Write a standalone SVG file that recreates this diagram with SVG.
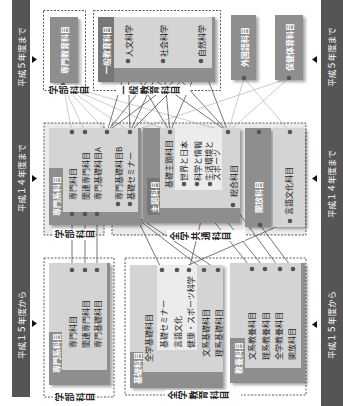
<svg xmlns="http://www.w3.org/2000/svg" width="343" height="406" viewBox="0 0 343 406">
<defs>
<style>
.bar{fill:#555}
.bt{fill:#fff;font-family:"Noto Sans CJK JP",sans-serif;font-size:8.5px}
.arr{fill:#111}
.dash{fill:#fff;stroke:#333;stroke-width:0.8;stroke-dasharray:2 1.5}
.dashg{fill:#ebebeb;stroke:#333;stroke-width:0.8;stroke-dasharray:2 1.5}
.box{fill:#8e8e8e}
.strip{fill:#777}
.panel{fill:#d4d4d4}
.sub{fill:#ececec}
.wt{fill:#fff;font-family:"Noto Sans CJK JP",sans-serif;font-size:8px;font-weight:bold}
.t{fill:#222;font-family:"Noto Sans CJK JP",sans-serif;font-size:8px}
.lab{fill:#222;font-family:"Noto Sans CJK JP",sans-serif;font-size:9px;font-weight:bold;writing-mode:vertical-rl;letter-spacing:1.5px}
.dot{fill:#555}
.ln{stroke:#555;stroke-width:0.8;fill:none}
.ln2{stroke:#aaa;stroke-width:0.6;fill:none}
</style>
<filter id="sh" x="-20%" y="-20%" width="150%" height="140%"><feDropShadow dx="2.5" dy="2" stdDeviation="1.5" flood-color="#000" flood-opacity="0.35"/></filter>
</defs>
<rect width="343" height="406" fill="#fff"/>

<g id="bars">
<rect class="bar" x="12" y="0" width="18" height="397"/>
<rect class="bar" x="321" y="0" width="22" height="406"/>
<text class="bt" transform="translate(21,57) rotate(-90)" text-anchor="middle" dominant-baseline="central">平成５年度まで</text>
<text class="bt" transform="translate(21,178) rotate(-90)" text-anchor="middle" dominant-baseline="central">平成１４年度まで</text>
<text class="bt" transform="translate(21,325) rotate(-90)" text-anchor="middle" dominant-baseline="central">平成１５年度から</text>
<text class="bt" transform="translate(331,57) rotate(-90)" text-anchor="middle" dominant-baseline="central">平成５年度まで</text>
<text class="bt" transform="translate(331,184) rotate(-90)" text-anchor="middle" dominant-baseline="central">平成１４年度まで</text>
<text class="bt" transform="translate(331,325) rotate(-90)" text-anchor="middle" dominant-baseline="central">平成１５年度から</text>
<path class="arr" d="M32,56 L37,59.5 L32,63 Z M32,175 L37,178.5 L32,182 Z M32,320 L37,323.5 L32,327 Z"/>
<path class="arr" d="M317,56 L312,59.5 L317,63 Z M317,175 L312,178.5 L317,182 Z M317,321 L312,324.5 L317,328 Z"/>
</g>

<g id="groups">
<rect class="dash" x="43.5" y="10.5" width="42" height="80"/>
<rect class="dash" x="93.5" y="10.5" width="127" height="80"/>
<rect class="dashg" x="44" y="123" width="60" height="112"/>
<rect class="dashg" x="112" y="123" width="194" height="112"/>
<rect class="dash" x="44" y="258" width="70" height="139"/>
<rect class="dash" x="125" y="258" width="181" height="137"/>
</g>

<g id="connectors">
<line class="ln2" x1="63" y1="85" x2="72" y2="132"/>
<line class="ln2" x1="63" y1="85" x2="85" y2="132"/>
<line class="ln2" x1="63" y1="85" x2="107" y2="132"/>
<line class="ln2" x1="63" y1="85" x2="130" y2="132"/>
<line class="ln2" x1="63" y1="85" x2="170" y2="132"/>
<line class="ln2" x1="63" y1="85" x2="228" y2="132"/>
<line class="ln" x1="128" y1="61" x2="107" y2="132"/>
<line class="ln" x1="128" y1="61" x2="130" y2="132"/>
<line class="ln" x1="128" y1="61" x2="170" y2="132"/>
<line class="ln" x1="128" y1="61" x2="228" y2="132"/>
<line class="ln" x1="163" y1="61" x2="107" y2="132"/>
<line class="ln" x1="163" y1="61" x2="130" y2="132"/>
<line class="ln" x1="163" y1="61" x2="170" y2="132"/>
<line class="ln" x1="163" y1="61" x2="228" y2="132"/>
<line class="ln" x1="201" y1="61" x2="107" y2="132"/>
<line class="ln" x1="201" y1="61" x2="130" y2="132"/>
<line class="ln" x1="201" y1="61" x2="170" y2="132"/>
<line class="ln" x1="201" y1="61" x2="228" y2="132"/>
<line class="ln2" x1="244" y1="78" x2="228" y2="132"/>
<line class="ln2" x1="244" y1="78" x2="290" y2="132"/>
<line class="ln2" x1="289" y1="78" x2="228" y2="132"/>
<line class="ln2" x1="289" y1="78" x2="130" y2="132"/>
<line class="ln" x1="72" y1="214" x2="72" y2="270"/>
<line class="ln" x1="85" y1="214" x2="85" y2="270"/>
<line class="ln" x1="97" y1="214" x2="97" y2="270"/>
<line class="ln" x1="118" y1="204" x2="204" y2="270"/>
<line class="ln" x1="118" y1="204" x2="218" y2="270"/>
<line class="ln" x1="130" y1="204" x2="162" y2="270"/>
<line class="ln" x1="184" y1="184" x2="252" y2="269"/>
<line class="ln" x1="197" y1="184" x2="265" y2="269"/>
<line class="ln" x1="210" y1="184" x2="189" y2="270"/>
<line class="ln" x1="233" y1="205" x2="280" y2="269"/>
<line class="ln" x1="260" y1="225" x2="293" y2="269"/>
<line class="ln" x1="290" y1="221" x2="177" y2="270"/>
</g>

<g id="n-senmonkyoiku">
<rect class="box" x="50" y="17" width="28" height="66" filter="url(#sh)"/>
<text class="wt" transform="translate(64,50) rotate(-90)" text-anchor="middle" dominant-baseline="central">専門教育科目</text>
</g>

<g id="n-ippan">
<rect class="box" x="98" y="17" width="117" height="65" filter="url(#sh)"/>
<rect class="strip" x="98" y="17" width="16" height="65"/>
<rect class="panel" x="114" y="17" width="98" height="51"/>
<text class="wt" transform="translate(106,50) rotate(-90)" text-anchor="middle" dominant-baseline="central">一般教育科目</text>
<text class="t" transform="translate(128,57) rotate(-90)" dominant-baseline="central">人文科学</text>
<text class="t" transform="translate(163,57) rotate(-90)" dominant-baseline="central">社会科学</text>
<text class="t" transform="translate(201,57) rotate(-90)" dominant-baseline="central">自然科学</text>
</g>

<g id="n-gaikokugo">
<rect class="box" x="231" y="15" width="25" height="65" filter="url(#sh)"/>
<text class="wt" transform="translate(244,47) rotate(-90)" text-anchor="middle" dominant-baseline="central">外国語科目</text>
</g>
<g id="n-hoken">
<rect class="box" x="275" y="15" width="28" height="65" filter="url(#sh)"/>
<text class="wt" transform="translate(289,47) rotate(-90)" text-anchor="middle" dominant-baseline="central">保健体育科目</text>
</g>

<g id="n-senmonkei14">
<rect class="box" x="49" y="128" width="92" height="97" filter="url(#sh)"/>
<path class="panel" d="M49,128 H138 V212 H63 V168 H49 Z"/>
<text class="wt" transform="translate(56,196) rotate(-90)" text-anchor="middle" dominant-baseline="central">専門系科目</text>
<text class="t" transform="translate(72,200) rotate(-90)" dominant-baseline="central">専門科目</text>
<text class="t" transform="translate(85,200) rotate(-90)" dominant-baseline="central">関連専門科目</text>
<text class="t" transform="translate(97,200) rotate(-90)" dominant-baseline="central">専門基礎科目A</text>
<text class="t" transform="translate(118,200) rotate(-90)" dominant-baseline="central">専門基礎科目B</text>
<text class="t" transform="translate(130,200) rotate(-90)" dominant-baseline="central">基礎セミナー</text>
</g>

<g id="n-shudai">
<rect class="box" x="143" y="128" width="97" height="95" filter="url(#sh)"/>
<rect class="panel" x="160" y="128" width="80" height="80"/>
<rect class="sub" x="175" y="128" width="47" height="62"/>
<rect class="strip" x="147" y="178" width="13" height="37"/>
<text class="wt" transform="translate(154,197) rotate(-90)" text-anchor="middle" dominant-baseline="central">主題科目</text>
<text class="t" transform="translate(168,188) rotate(-90)" dominant-baseline="central">基礎主題科目</text>
<text class="t" transform="translate(183,181) rotate(-90)" dominant-baseline="central">世界と日本</text>
<text class="t" transform="translate(197,181) rotate(-90)" dominant-baseline="central">科学と情報</text>
<text class="t" transform="translate(208,181) rotate(-90)" dominant-baseline="central">生活環境と</text>
<text class="t" transform="translate(216,181) rotate(-90)" dominant-baseline="central">スポーツ</text>
<text class="t" transform="translate(233,197) rotate(-90)" dominant-baseline="central">総合科目</text>
</g>

<g id="n-kaiho14">
<rect class="box" x="245" y="128" width="26" height="99" filter="url(#sh)"/>
<text class="wt" transform="translate(258,197) rotate(-90)" text-anchor="middle" dominant-baseline="central">開放科目</text>
</g>
<g id="n-gengo14">
<rect class="panel" x="273" y="128" width="32" height="99" filter="url(#sh)"/>
<text class="t" transform="translate(288,191) rotate(-90)" text-anchor="middle" dominant-baseline="central">言語文化科目</text>
</g>

<g id="n-senmonkei15">
<rect class="box" x="49" y="263" width="61" height="122" filter="url(#sh)"/>
<path class="panel" d="M49,263 H107 V370 H62 V332 H49 Z"/>
<text class="wt" transform="translate(56,353) rotate(-90)" text-anchor="middle" dominant-baseline="central">専門系科目</text>
<text class="t" transform="translate(72,348) rotate(-90)" dominant-baseline="central">専門科目</text>
<text class="t" transform="translate(85,348) rotate(-90)" dominant-baseline="central">関連専門科目</text>
<text class="t" transform="translate(97,348) rotate(-90)" dominant-baseline="central">専門基礎科目</text>
</g>

<g id="n-kiso15">
<rect class="box" x="130" y="265" width="93" height="123" filter="url(#sh)"/>
<path class="panel" d="M130,265 H223 V372 H143 V352 H130 Z"/>
<rect class="sub" x="157" y="265" width="40" height="85"/>
<text class="wt" transform="translate(137,368) rotate(-90)" text-anchor="middle" dominant-baseline="central">基礎科目</text>
<text class="t" transform="translate(148,362) rotate(-90)" dominant-baseline="central">全学基礎科目</text>
<text class="t" transform="translate(163,348) rotate(-90)" dominant-baseline="central">基礎セミナー</text>
<text class="t" transform="translate(177,348) rotate(-90)" dominant-baseline="central">言語文化</text>
<text class="t" transform="translate(190,348) rotate(-90)" dominant-baseline="central">健康・スポーツ科学</text>
<text class="t" transform="translate(205,357) rotate(-90)" dominant-baseline="central">文系基礎科目</text>
<text class="t" transform="translate(218,357) rotate(-90)" dominant-baseline="central">理系基礎科目</text>
</g>

<g id="n-kyoyo15">
<rect class="box" x="230" y="263" width="75" height="120" filter="url(#sh)"/>
<path class="panel" d="M230,263 H301 V368 H245 V338 H230 Z"/>
<text class="wt" transform="translate(238,358) rotate(-90)" text-anchor="middle" dominant-baseline="central">教養科目</text>
<text class="t" transform="translate(251,360) rotate(-90)" dominant-baseline="central">文系教養科目</text>
<text class="t" transform="translate(265,360) rotate(-90)" dominant-baseline="central">理系教養科目</text>
<text class="t" transform="translate(278,360) rotate(-90)" dominant-baseline="central">全学教養科目</text>
<text class="t" transform="translate(291,360) rotate(-90)" dominant-baseline="central">開放科目</text>
</g>

<g id="dots">
<circle class="dot" cx="63" cy="85" r="2.3"/>
<circle class="dot" cx="128" cy="61" r="2.3"/>
<circle class="dot" cx="163" cy="61" r="2.3"/>
<circle class="dot" cx="201" cy="61" r="2.3"/>
<circle class="dot" cx="244" cy="78" r="2.3"/>
<circle class="dot" cx="289" cy="78" r="2.3"/>
<circle class="dot" cx="72" cy="132" r="2.3"/>
<circle class="dot" cx="85" cy="132" r="2.3"/>
<circle class="dot" cx="107" cy="132" r="2.3"/>
<circle class="dot" cx="130" cy="132" r="2.3"/>
<circle class="dot" cx="170" cy="132" r="2.3"/>
<circle class="dot" cx="228" cy="132" r="2.3"/>
<circle class="dot" cx="259" cy="132" r="2.3"/>
<circle class="dot" cx="290" cy="132" r="2.3"/>
<circle class="dot" cx="72" cy="214" r="2.3"/>
<circle class="dot" cx="85" cy="214" r="2.3"/>
<circle class="dot" cx="97" cy="214" r="2.3"/>
<circle class="dot" cx="118" cy="204" r="2.3"/>
<circle class="dot" cx="130" cy="204" r="2.3"/>
<circle class="dot" cx="184" cy="184" r="2.3"/>
<circle class="dot" cx="197" cy="184" r="2.3"/>
<circle class="dot" cx="210" cy="184" r="2.3"/>
<circle class="dot" cx="233" cy="205" r="2.3"/>
<circle class="dot" cx="260" cy="225" r="2.3"/>
<circle class="dot" cx="290" cy="221" r="2.3"/>
<circle class="dot" cx="72" cy="270" r="2.3"/>
<circle class="dot" cx="85" cy="270" r="2.3"/>
<circle class="dot" cx="97" cy="270" r="2.3"/>
<circle class="dot" cx="162" cy="270" r="2.3"/>
<circle class="dot" cx="177" cy="270" r="2.3"/>
<circle class="dot" cx="189" cy="270" r="2.3"/>
<circle class="dot" cx="204" cy="270" r="2.3"/>
<circle class="dot" cx="218" cy="270" r="2.3"/>
<circle class="dot" cx="252" cy="269" r="2.3"/>
<circle class="dot" cx="265" cy="269" r="2.3"/>
<circle class="dot" cx="280" cy="269" r="2.3"/>
<circle class="dot" cx="293" cy="269" r="2.3"/>
</g>

<g id="labels">
<rect x="49" y="85" width="31" height="10" fill="#fff"/>
<text class="lab" transform="translate(49,90) rotate(-90)" dominant-baseline="central">学部科目</text>
<rect x="117" y="85" width="73" height="10" fill="#fff"/>
<text class="lab" transform="translate(119,90) rotate(-90)" dominant-baseline="central">一般教育科目</text>
<rect x="53" y="229" width="42" height="11" fill="#fff"/>
<text class="lab" transform="translate(55,234) rotate(-90)" dominant-baseline="central">学部科目</text>
<rect x="167" y="230" width="78" height="11" fill="#fff"/>
<text class="lab" transform="translate(170,236) rotate(-90)" dominant-baseline="central">全学共通科目</text>
<rect x="53" y="392" width="42" height="11" fill="#fff"/>
<text class="lab" transform="translate(55,397) rotate(-90)" dominant-baseline="central">学部科目</text>
<rect x="165" y="390" width="76" height="11" fill="#fff"/>
<text class="lab" transform="translate(168,395) rotate(-90)" dominant-baseline="central">全学教育科目</text>
</g>
</svg>
